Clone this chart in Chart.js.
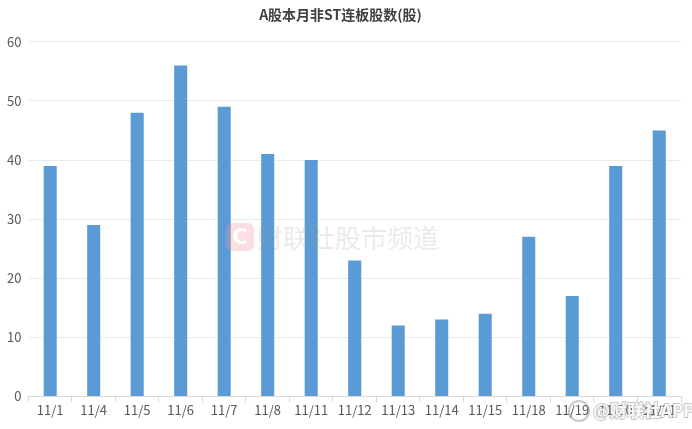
<!DOCTYPE html>
<html>
<head>
<meta charset="utf-8">
<script src="https://cdn.jsdelivr.net/npm/chart.js@4/dist/chart.umd.min.js"></script>
<style>
html,body{margin:0;padding:0;background:#fff;}
#wrap{width:692px;height:429px;position:relative;}
</style>
</head>
<body>
<div id="wrap"><canvas id="c" width="692" height="429"></canvas></div>
<script>
const categories = ['11/1','11/4','11/5','11/6','11/7','11/8','11/11','11/12','11/13','11/14','11/15','11/18','11/19','11/20','11/21'];
const values = [39,29,48,56,49,41,40,23,12,13,14,27,17,39,45];
const titleText = 'A股本月非ST连板股数(股)';
const watermarkText = '财联社股市频道';
const weiboText = '财联社APP';

const FONT = "'Noto Sans CJK SC','Noto Sans',sans-serif";

const watermark = {
  id: 'watermark',
  afterDatasetsDraw(chart) {
    const ctx = chart.ctx;
    ctx.save();
    const x0 = 226, y0 = 237;
    ctx.fillStyle = 'rgba(240,150,160,0.3)';
    const r = 6, w = 28, h = 28;
    ctx.beginPath();
    ctx.moveTo(x0 + r, y0 - h/2);
    ctx.arcTo(x0 + w, y0 - h/2, x0 + w, y0 + h/2, r);
    ctx.arcTo(x0 + w, y0 + h/2, x0, y0 + h/2, r);
    ctx.arcTo(x0, y0 + h/2, x0, y0 - h/2, r);
    ctx.arcTo(x0, y0 - h/2, x0 + w, y0 - h/2, r);
    ctx.closePath();
    ctx.fill();
    ctx.fillStyle = 'rgba(255,255,255,0.9)';
    ctx.font = "bold 22px 'DejaVu Sans',sans-serif";
    ctx.textBaseline = 'middle';
    ctx.textAlign = 'center';
    ctx.fillText('C', x0 + w/2, y0 + 1);
    ctx.fillStyle = 'rgba(150,150,150,0.2)';
    ctx.font = "26px " + FONT;
    ctx.textAlign = 'left';
    ctx.fillText(watermarkText, x0 + 31, y0 + 1);
    ctx.font = "bold 17px " + FONT;
    ctx.lineWidth = 2;
    ctx.strokeStyle = 'rgba(120,120,120,0.4)';
    ctx.fillStyle = 'rgba(255,255,255,0.9)';
    ctx.beginPath();
    ctx.arc(579, 411, 10, 0, Math.PI * 2);
    ctx.stroke();
    ctx.strokeText('@' + weiboText, 593, 411);
    ctx.fillText('@' + weiboText, 593, 411);
    ctx.restore();
  }
};

new Chart(document.getElementById('c'), {
  type: 'bar',
  data: {
    labels: categories,
    datasets: [{
      data: values,
      backgroundColor: '#5B9BD5',
      borderWidth: 0,
      barPercentage: 0.6,
      categoryPercentage: 0.5
    }]
  },
  options: {
    responsive: false,
    animation: false,
    devicePixelRatio: 1,
    layout: { padding: { left: 0, right: 11, top: 0, bottom: 11 } },
    plugins: {
      legend: { display: false },
      tooltip: { enabled: false },
      title: {
        display: true,
        text: titleText,
        color: '#404040',
        font: { family: FONT, size: 14, weight: 'bold' },
        padding: { top: 6, bottom: 19 }
      }
    },
    scales: {
      x: {
        grid: { display: true, drawOnChartArea: false, drawTicks: true, tickLength: 6, color: '#d9d9d9' },
        border: { color: '#d9d9d9' },
        ticks: { color: '#595959', font: { family: FONT, size: 13 }, maxRotation: 0, autoSkip: false, padding: 0 }
      },
      y: {
        min: 0, max: 60,
        ticks: { stepSize: 10, color: '#595959', font: { family: FONT, size: 13 }, padding: 7 },
        grid: { color: '#ebebeb', drawTicks: false },
        border: { display: false }
      }
    }
  },
  plugins: [watermark]
});
</script>
</body>
</html>
